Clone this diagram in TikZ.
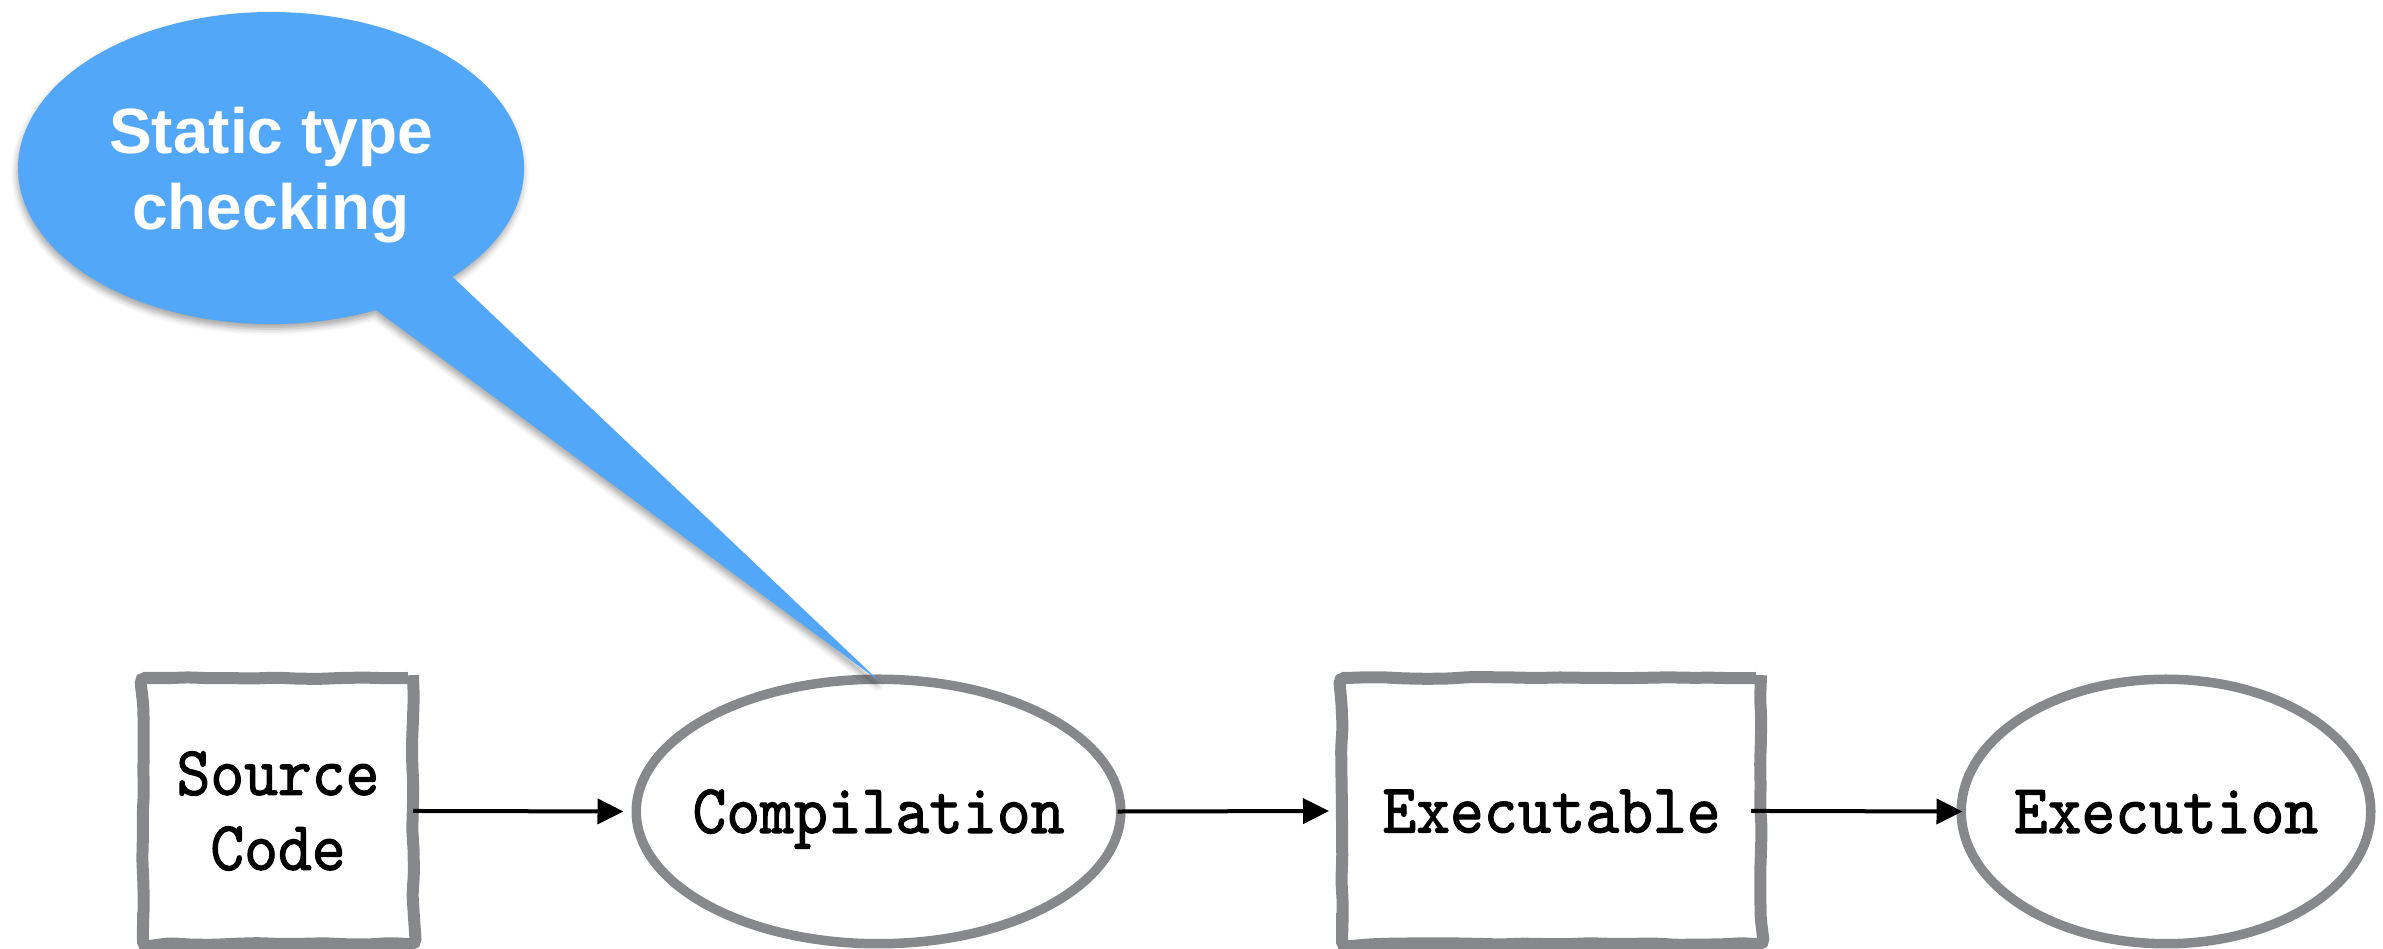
\documentclass[tikz,border=0pt]{standalone}
\usepackage{graphicx}
\usepackage{fontspec}
\newfontfamily\calloutfont{Liberation Sans}
\newfontfamily\typefont[AutoFakeBold=1.6]{lmmono10-regular.otf}
\usetikzlibrary{arrows.meta,shapes.geometric,shadows.blur,decorations.pathmorphing}

\definecolor{sketchgray}{RGB}{134,136,140}
\definecolor{calloutblue}{RGB}{82,167,249}

% slightly condensed, heavier typewriter lettering
\newcommand\twtext[1]{\scalebox{0.92}[1]{#1}}

\tikzset{
  stagebox/.style={draw=sketchgray, decorate,
    decoration={random steps, segment length=22pt, amplitude=0.9pt},
    rectangle, line width=12pt, rounded corners=5pt,
    minimum height=266pt, inner sep=0pt},
  stageoval/.style={draw=sketchgray, ellipse, line width=9.5pt,
    minimum height=264.5pt, inner sep=0pt},
  stagetext/.style={font=\typefont\bfseries\fontsize{70}{75}\selectfont,
    align=center, text=black},
  singleline/.style={text height=43pt, text depth=0pt},
  flow/.style={-{Triangle[length=26pt,width=25pt]}, line width=4pt, black},
  callouttext/.style={font=\calloutfont\bfseries\fontsize{64}{76}\selectfont,
    text=white, align=center},
}

\begin{document}
\begin{tikzpicture}[x=1pt, y=1pt]
  \pgfmathsetseed{7}
  \useasboundingbox (0,0) rectangle (2383,949);

  % pipeline stages
  \node[stagebox, stagetext, minimum width=270pt] (src) at (278,138)
    {\twtext{Source}\\\twtext{Code}};
  \node[stageoval, stagetext, singleline, minimum width=484.5pt] (comp) at (878.5,137.5)
    {\makebox[0pt]{\twtext{Compilation}}};
  \node[stagebox, stagetext, singleline, minimum width=419pt] (exe) at (1551.5,138)
    {\twtext{Executable}};
  \node[stageoval, stagetext, singleline, minimum width=409.5pt] (run) at (2166,137.5)
    {\makebox[0pt]{\twtext{Execution}}};

  % flow between stages
  \draw[flow, shorten <=-6pt, shorten >=8pt] (src.east) -- (comp.west);
  \draw[flow, shorten <=-8pt, shorten >=7pt] (comp.east) -- (exe.west);
  \draw[flow, shorten <=-16pt, shorten >=-6pt] (exe.east) -- (run.west);

  % speech bubble pointing at the compilation stage
  \path[fill=calloutblue,
        blur shadow={shadow xshift=-1pt, shadow yshift=-5pt,
                     shadow blur radius=6pt, shadow opacity=35}]
    (376,639) arc[start angle=-65.5, end angle=-404.2, x radius=253, y radius=156]
    -- ([yshift=-6pt]comp.north) -- cycle;
  \node[callouttext] (callout) at (271,774) {Static type\\checking};
\end{tikzpicture}
\end{document}
